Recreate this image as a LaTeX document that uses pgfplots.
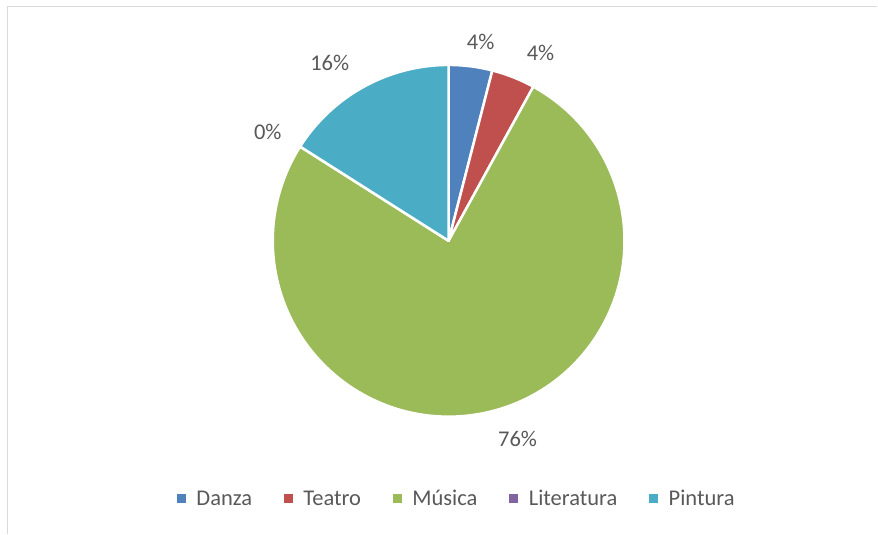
\documentclass[border=0pt]{standalone}
\usepackage{pgfplots}
\pgfplotsset{compat=1.18}
\usepackage{fontspec}
\setmainfont{Carlito}
\definecolor{cDanza}{HTML}{4F81BD}
\definecolor{cTeatro}{HTML}{C0504D}
\definecolor{cMusica}{HTML}{9BBB59}
\definecolor{cLit}{HTML}{8064A2}
\definecolor{cPint}{HTML}{4BACC6}
\definecolor{txt}{HTML}{595959}
\definecolor{framec}{HTML}{D9D9D9}
% data (counts): Danza, Teatro, Musica, Literatura, Pintura
\def\vDanza{1}\def\vTeatro{1}\def\vMusica{19}\def\vLit{0}\def\vPint{4}
\pgfmathsetmacro\tot{\vDanza+\vTeatro+\vMusica+\vLit+\vPint}
\pgfmathsetmacro\aA{90}
\pgfmathsetmacro\aB{\aA-360*\vDanza/\tot}
\pgfmathsetmacro\aC{\aB-360*\vTeatro/\tot}
\pgfmathsetmacro\aD{\aC-360*\vMusica/\tot}
\pgfmathsetmacro\aE{\aD-360*\vLit/\tot}
\pgfmathsetmacro\aF{\aE-360*\vPint/\tot}
\newcommand\slice[3]{\filldraw[fill=#3, draw=white, line width=2.5pt, line join=round]
  (axis cs:449,293) -- ++(#1:176pt) arc[start angle=#1, end angle=#2, radius=176pt] -- cycle;}
\tikzset{lbl/.style={font=\fontsize{22.5}{26}\selectfont, text=txt, inner sep=0pt}}
\begin{document}
\begin{tikzpicture}
\begin{axis}[scale only axis, width=878pt, height=534pt,
  xmin=0, xmax=878, ymin=0, ymax=534, hide axis, clip=false,
  legend columns=5,
  legend image code/.code={\fill[#1] (0pt,-4pt) rectangle (8pt,4pt);},
  legend style={at={(axis cs:177,35)}, anchor=west, draw=none, fill=none, inner sep=0pt,
    font=\fontsize{22.5}{26}\selectfont, text=txt, nodes={inner sep=0pt},
    /tikz/every odd column/.append style={column sep=11pt},
    /tikz/every even column/.append style={column sep=32pt}}]
\path (axis cs:0,0) rectangle (axis cs:878,534);
\draw[framec, line width=1.5pt] (axis cs:7.5,0) -- (axis cs:7.5,527.5) -- (axis cs:878,527.5);
\slice{\aA}{\aB}{cDanza}
\slice{\aB}{\aC}{cTeatro}
\slice{\aC}{\aD}{cMusica}
\slice{\aD}{\aE}{cLit}
\slice{\aE}{\aF}{cPint}
\node[lbl] at (axis cs:481,492) {4\%};
\node[lbl] at (axis cs:541,481) {4\%};
\node[lbl] at (axis cs:518,95) {76\%};
\node[lbl] at (axis cs:268,402) {0\%};
\node[lbl] at (axis cs:330,471) {16\%};
\addlegendimage{cDanza}\addlegendentry{Danza}
\addlegendimage{cTeatro}\addlegendentry{Teatro}
\addlegendimage{cMusica}\addlegendentry{Música}
\addlegendimage{cLit}\addlegendentry{Literatura}
\addlegendimage{cPint}\addlegendentry{Pintura}
\end{axis}
\end{tikzpicture}
\end{document}
